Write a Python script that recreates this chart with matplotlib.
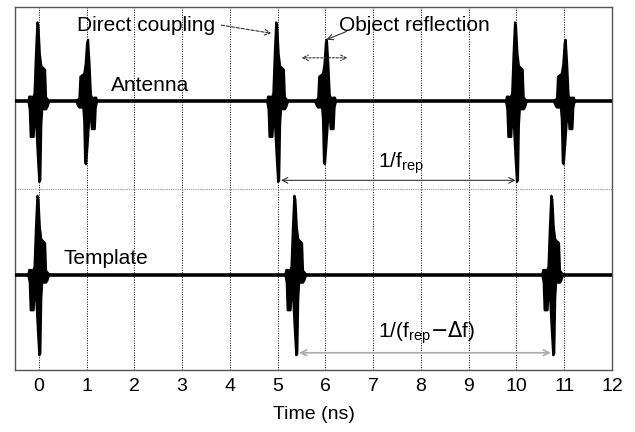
import numpy as np
import matplotlib
matplotlib.use("Agg")
import matplotlib.pyplot as plt

plt.rcParams['font.family'] = ['Liberation Sans', 'DejaVu Sans']

# Pulse envelope (offset in ns, normalised amplitude): upper and lower bounds
upper_offsets = [-0.22, -0.20, -0.16, -0.14, -0.09, -0.06, -0.03, -0.01,
                 0.02, 0.05, 0.08, 0.13, 0.15, 0.22]
upper_values = [0.0, 0.06, 0.06, 0.02, 0.10, 0.60, 1.00, 0.95,
                0.60, 0.45, 0.43, 0.40, 0.05, 0.0]
lower_offsets = [-0.22, -0.19, -0.17, -0.11, -0.09, -0.05, -0.02, 0.01,
                 0.03, 0.05, 0.07, 0.15, 0.18, 0.20, 0.22]
lower_values = [0.0, -0.10, -0.45, -0.45, -0.20, -0.35, -0.70, -1.02,
                -1.00, -0.30, -0.10, -0.10, -0.07, -0.03, 0.0]

# Received antenna signal: direct coupling + object reflection each period
antenna_times = [0.0, 1.0, 5.0, 6.0, 10.0, 11.0]
antenna_amps = [1.0, 0.78, 1.0, 0.78, 1.0, 0.78]
antenna_reversed = [False, True, False, True, False, True]

# Template signal with slightly longer period
template_times = [0.0, 5.38, 10.76]
template_amps = [1.0, 1.0, 1.0]
template_reversed = [False, False, False]

x_ticks = list(range(0, 13))
x_label = "Time (ns)"

# layout
T_MIN, T_MAX = -0.5, 12.0
ANT_OFFSET, TPL_OFFSET, SCALE = 0.96, -0.95, 0.87
TRACE_LW = 2.6


def draw_trace(ax, times, amps, reversed_flags, offset):
    ax.plot([T_MIN, T_MAX], [offset, offset], color='black', lw=TRACE_LW,
            solid_capstyle='butt', zorder=3)
    for t0, a, rev in zip(times, amps, reversed_flags):
        sign = -1.0 if rev else 1.0
        xs = ([t0 + sign * d for d in upper_offsets]
              + [t0 + sign * d for d in lower_offsets[::-1]])
        ys = ([offset + SCALE * a * v for v in upper_values]
              + [offset + SCALE * a * v for v in lower_values[::-1]])
        ax.fill(xs, ys, facecolor='black', edgecolor='black', lw=1.6,
                joinstyle='round', zorder=3)


fig = plt.figure(figsize=(6.35, 4.32), dpi=100)
ax = fig.add_axes([0.0236, 0.1435, 0.9402, 0.8403])

for t in x_ticks:
    ax.axvline(t, color='black', lw=0.7, ls=(0, (1, 1.5)), zorder=1)
ax.axhline(0, color='#999999', lw=0.8, ls=(0, (1, 1)), zorder=1)

draw_trace(ax, antenna_times, antenna_amps, antenna_reversed, ANT_OFFSET)
draw_trace(ax, template_times, template_amps, template_reversed, TPL_OFFSET)

ax.set_xlim(T_MIN, T_MAX)
ax.set_ylim(-2.0, 2.0)
ax.set_xticks(x_ticks)
ax.set_yticks([])
ax.tick_params(axis='x', length=0, labelsize=14, pad=6)
ax.set_xlabel(x_label, fontsize=14, labelpad=8)
for s in ax.spines.values():
    s.set_color('#555555')
    s.set_linewidth(1.0)

fs = 15
ax.text(0.8, 1.80, "Direct coupling", fontsize=fs, va='center', ha='left', zorder=4)
ax.annotate("", xy=(4.87, 1.71), xytext=(3.82, 1.80),
            arrowprops=dict(arrowstyle='->', color='#333333', lw=0.8,
                            ls=(0, (3, 1.5)), shrinkA=0, shrinkB=0))
ax.text(6.29, 1.80, "Object reflection", fontsize=fs, va='center', ha='left', zorder=4)
ax.annotate("", xy=(6.02, 1.64), xytext=(6.44, 1.73),
            arrowprops=dict(arrowstyle='->', color='#333333', lw=0.8,
                            shrinkA=0, shrinkB=0))
ax.annotate("", xy=(5.5, 1.44), xytext=(6.46, 1.44),
            arrowprops=dict(arrowstyle='<->', color='#333333', lw=0.8,
                            ls=(0, (2, 1.5)), shrinkA=0, shrinkB=0))
ax.text(1.51, 1.14, "Antenna", fontsize=fs, va='center', ha='left', zorder=4)

ax.text(7.09, 0.28, r"1/f$_{\mathregular{rep}}$", fontsize=fs, va='center', ha='left', zorder=4)
ax.annotate("", xy=(5.07, 0.09), xytext=(9.98, 0.09),
            arrowprops=dict(arrowstyle='<->', color='#333333', lw=0.8,
                            shrinkA=0, shrinkB=0))

ax.text(0.52, -0.77, "Template", fontsize=fs, va='center', ha='left', zorder=4)
ax.text(7.09, -1.59, r"1/(f$_{\mathregular{rep}}$$-\Delta$f)", fontsize=fs,
        va='center', ha='left', zorder=4)
ax.annotate("", xy=(5.45, -1.81), xytext=(10.72, -1.81),
            arrowprops=dict(arrowstyle='<->', color='#aaaaaa', lw=1.2,
                            shrinkA=0, shrinkB=0))

fig.savefig("out.png", dpi=100)
